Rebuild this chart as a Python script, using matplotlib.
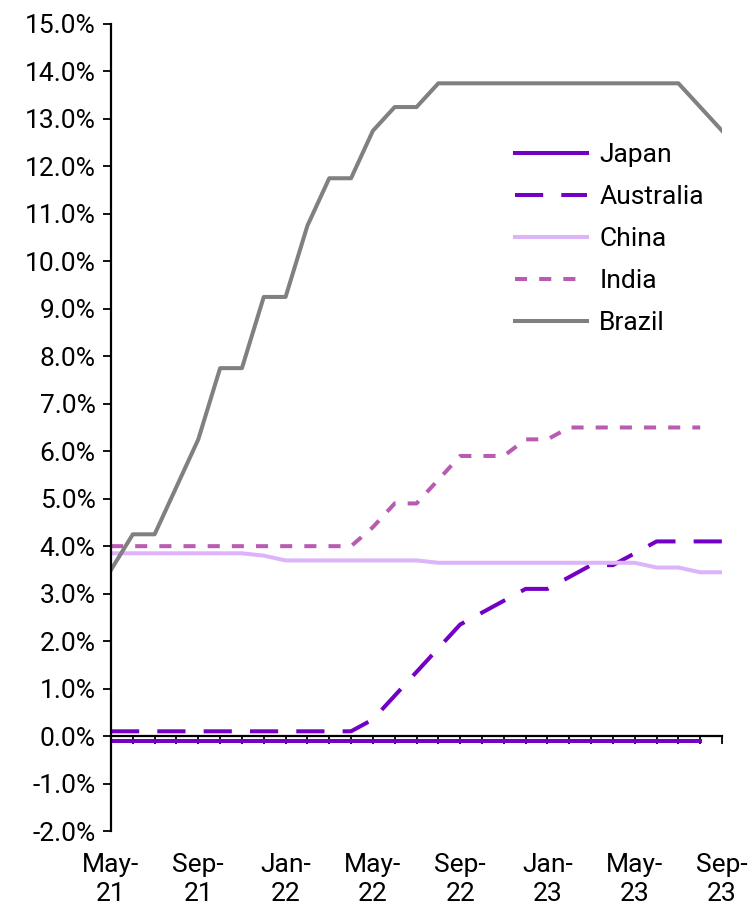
import numpy as np
import matplotlib
matplotlib.use('Agg')
import matplotlib.pyplot as plt

plt.rcParams['font.family'] = ['Roboto', 'DejaVu Sans']

# monthly, May-21 .. Sep-23
months = np.arange(29)
tick_labels = ['May-\n21', 'Sep-\n21', 'Jan-\n22', 'May-\n22', 'Sep-\n22', 'Jan-\n23', 'May-\n23', 'Sep-\n23']

japan = [-0.10] * 28
australia = [0.10, 0.10, 0.10, 0.10, 0.10, 0.10, 0.10, 0.10, 0.10, 0.10, 0.10, 0.10,
             0.35, 0.85, 1.35, 1.85, 2.35, 2.60, 2.85, 3.10, 3.10, 3.35, 3.60, 3.60,
             3.85, 4.10, 4.10, 4.10, 4.10]
china = [3.85, 3.85, 3.85, 3.85, 3.85, 3.85, 3.85, 3.80, 3.70, 3.70, 3.70, 3.70,
         3.70, 3.70, 3.70, 3.65, 3.65, 3.65, 3.65, 3.65, 3.65, 3.65, 3.65, 3.65,
         3.65, 3.55, 3.55, 3.45, 3.45]
india = [4.00, 4.00, 4.00, 4.00, 4.00, 4.00, 4.00, 4.00, 4.00, 4.00, 4.00, 4.00,
         4.40, 4.90, 4.90, 5.40, 5.90, 5.90, 5.90, 6.25, 6.25, 6.50, 6.50, 6.50,
         6.50, 6.50, 6.50, 6.50]
brazil = [3.50, 4.25, 4.25, 5.25, 6.25, 7.75, 7.75, 9.25, 9.25, 10.75, 11.75, 11.75,
          12.75, 13.25, 13.25, 13.75, 13.75, 13.75, 13.75, 13.75, 13.75, 13.75, 13.75, 13.75,
          13.75, 13.75, 13.75, 13.25, 12.75]

fig = plt.figure(figsize=(7.53, 9.08), dpi=100)
ax = fig.add_axes([0.1474, 0.0848, 0.8115, 0.8888])

lw = 2.9
ax.plot(months[:len(japan)], japan, color='#7300C4', lw=lw, label='Japan')
ax.plot(months[:len(australia)], australia, color='#7300C4', lw=lw, dashes=(7, 4.5), label='Australia')
ax.plot(months[:len(china)], china, color='#DDB4FA', lw=lw, label='China')
ax.plot(months[:len(india)], india, color='#B85CB2', lw=lw, dashes=(3, 3), label='India')
ax.plot(months[:len(brazil)], brazil, color='#808080', lw=lw, label='Brazil')

ax.set_xlim(0, 28)
ax.set_ylim(-2, 15)
ax.set_yticks(np.arange(-2, 16, 1))
ax.set_yticklabels(['%.1f%%' % v for v in np.arange(-2, 16, 1)], fontsize=19)
ax.tick_params(axis='y', direction='out', length=6, width=1.3, pad=5)

for s in ['top', 'right']:
    ax.spines[s].set_visible(False)
ax.spines['left'].set_linewidth(1.6)
ax.spines['bottom'].set_position(('data', 0))
ax.spines['bottom'].set_linewidth(1.6)
ax.set_xticks(months)
ax.tick_params(axis='x', direction='out', length=6, width=1.3, labelbottom=False)

sec = ax.secondary_xaxis(0)
sec.set_xticks(months[::4])
sec.set_xticklabels(tick_labels, fontsize=19, linespacing=1.25)
sec.tick_params(length=0, pad=16)
sec.spines['bottom'].set_visible(False)

ax.legend(loc='upper left', bbox_to_anchor=(0.661, 0.852), frameon=False, fontsize=19,
          borderpad=0, borderaxespad=0, handlelength=2.75, handletextpad=0.45,
          labelspacing=0.68)

fig.savefig('out.png', dpi=100)
